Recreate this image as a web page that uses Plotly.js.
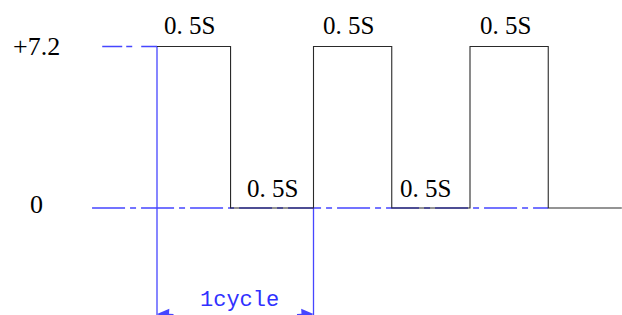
<!DOCTYPE html>
<html>
<head>
<meta charset="utf-8">
<script src="https://cdn.plot.ly/plotly-3.0.1.min.js"></script>
<style>html,body{margin:0;padding:0;background:#fff;}#chart{width:622px;height:315px;}</style>
</head>
<body>
<div id="chart"></div>
<script>
// ---- data ----
const edgeTimes = [0, 0.47, 1.0, 1.5, 2.0, 2.5, 2.97];   // seconds, signal transitions
const levels    = [7.2, 0, 7.2, 0, 7.2, 0, 0];            // signal level after each edge
const levelTicks  = [7.2, 0];
const levelLabels = ['+7.2', '0'];
const segmentLabel = '0. 5S';
const cycleStart = 0, cycleEnd = 1.0;
const cycleLabel = '1cycle';
const guideStart = -0.35;      // start of the +7.2 guide
const baseStart  = -0.415;     // start of the 0 guide

const blue = 'rgb(70,70,255)';
const waveColor = '#2a2a2a';
const yBottom = -4.77, yTop = 9.273;

const traces = [
  // blue centre line at 0
  {x: [baseStart, edgeTimes[5]], y: [0, 0], mode: 'lines',
   line: {color: blue, width: 1.3, dash: '33px,5px,6px,5px'}, hoverinfo: 'skip'},
  // blue guide at +7.2
  {x: [guideStart, edgeTimes[0]], y: [levelTicks[0], levelTicks[0]], mode: 'lines',
   line: {color: blue, width: 1.3, dash: '20px,4px,6px,9px'}, hoverinfo: 'skip'},
  // blue extension lines of one cycle
  {x: [cycleStart, cycleStart], y: [levelTicks[0], yBottom], mode: 'lines',
   line: {color: blue, width: 1.3}, hoverinfo: 'skip'},
  {x: [cycleEnd, cycleEnd], y: [0, yBottom], mode: 'lines',
   line: {color: blue, width: 1.3}, hoverinfo: 'skip'},
  // square wave
  {x: edgeTimes, y: levels, mode: 'lines', line: {color: waveColor, width: 1.1, shape: 'hv'},
   hoverinfo: 'skip'}
];

const annotations = [];
// level labels
levelTicks.forEach((v, i) => {
  annotations.push({xref: 'paper', x: 36/622, y: v, yref: 'y', text: levelLabels[i],
    showarrow: false, xanchor: 'center', yanchor: 'middle', yshift: i === 0 ? 0 : 4,
    font: {family: 'Liberation Serif, serif', size: 26, color: '#000'}});
});
// segment duration labels
for (let i = 0; i < edgeTimes.length - 2; i++) {
  const mid = (edgeTimes[i] + edgeTimes[i+1]) / 2;
  const high = levels[i] > 0;
  annotations.push({x: mid, y: levels[i], xref: 'x', yref: 'y', text: segmentLabel,
    showarrow: false, xanchor: 'center', yanchor: 'middle',
    xshift: high ? -4 : (i === 3 ? -5 : 0), yshift: high ? 21 : 20,
    font: {family: 'Liberation Serif, serif', size: 25, color: '#000'}});
}
// cycle label
annotations.push({x: (cycleStart + cycleEnd) / 2, xref: 'x', y: 0, yref: 'paper', text: cycleLabel,
  showarrow: false, xanchor: 'center', yanchor: 'middle', xshift: 4, yshift: 15,
  font: {family: 'Liberation Mono, monospace', size: 22, color: '#3030ff'}});
// dimension arrows (the dimension line itself lies just below the picture)
annotations.push({x: cycleStart, xref: 'x', y: -0.006, yref: 'paper', ax: 18, ay: 0, text: '',
  showarrow: true, arrowhead: 2, arrowsize: 1.5, arrowwidth: 1.6, arrowcolor: blue, standoff: 0});
annotations.push({x: cycleEnd, xref: 'x', y: -0.006, yref: 'paper', ax: -18, ay: 0, text: '',
  showarrow: true, arrowhead: 2, arrowsize: 1.5, arrowwidth: 1.6, arrowcolor: blue, standoff: 0});

const layout = {
  width: 622, height: 315,
  margin: {l: 0, r: 0, t: 0, b: 0},
  paper_bgcolor: '#fff', plot_bgcolor: '#fff',
  showlegend: false,
  xaxis: {range: [-157/156.5, 465/156.5], visible: false, fixedrange: true},
  yaxis: {range: [yBottom, yTop], visible: false, fixedrange: true},
  annotations: annotations
};

Plotly.newPlot('chart', traces, layout, {staticPlot: true, displayModeBar: false});
</script>
</body>
</html>
